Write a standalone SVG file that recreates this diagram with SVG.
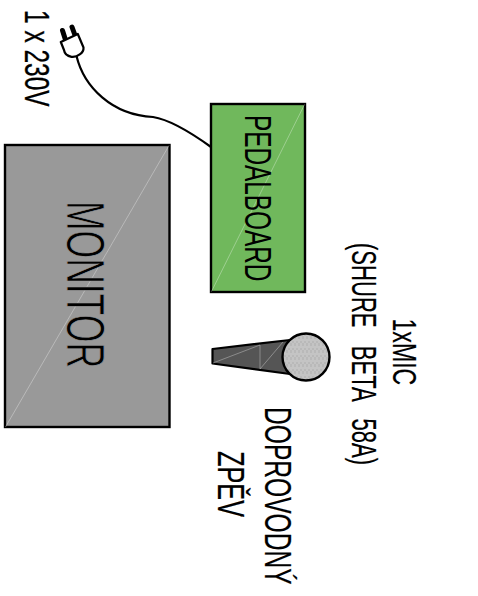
<svg xmlns="http://www.w3.org/2000/svg" width="478" height="596" viewBox="0 0 478 596">
<style>
.t{font-family:"Liberation Sans",Arial,sans-serif;fill:#000;}
.box{stroke:#000;stroke-width:2.400;}
.diag{stroke:#fff;stroke-opacity:.4;stroke-width:.8;fill:none;}
.wire{stroke:#000;stroke-width:2.200;fill:none;}
</style>
<defs>
<pattern id="mesh" width="4" height="7" patternUnits="userSpaceOnUse">
<rect width="4" height="7" fill="#b9b9b9"/>
<path d="M1 0V5M3 3V7" stroke="#cfcfcf" stroke-width="1"/>
</pattern>
</defs>
<rect width="478" height="596" fill="#fff"/>
<g id="connectors">
<path class="wire" d="M76.500 56C84 87 112 115 153 117C172 120 193 134 211 147"/>
</g>
<g id="plug">
<path d="M62.500 30.500L66 41.500M72 27L76 38" stroke="#000" stroke-width="5" stroke-linecap="round" fill="none"/>
<path d="M60.800 42L77.800 34L83.500 47.500C84 53 77 57.500 71.500 56.800C67 56 64.500 53.500 64 50Z" fill="#fff" stroke="#000" stroke-width="2.200" stroke-linejoin="round"/>
</g>
<g id="label-power">
<text class="t" transform="translate(25 10) rotate(90) scale(.7 1)" font-size="35" stroke="#000" stroke-width=".3">1 x 230V</text>
</g>
<g id="monitor">
<rect class="box" x="5" y="145" width="164.500" height="282" fill="#999"/>
<path class="diag" d="M5.500 427L169 145.500"/>
<text class="t" transform="translate(67 201) rotate(90) scale(.67 1)" font-size="53" stroke="#999" stroke-width=".8">MONITOR</text>
</g>
<g id="pedalboard">
<rect class="box" x="211" y="104" width="94" height="188" fill="#70b85c"/>
<path class="diag" d="M211.500 291.500L304.500 104.500"/>
<text class="t" transform="translate(245 115) rotate(90) scale(.667 1)" font-size="36.500">PEDALBOARD</text>
</g>
<g id="microphone">
<path d="M212.500 349L290 340V374L212.500 363.500Z" fill="#555" stroke="#000" stroke-width="2.200" stroke-linejoin="round"/>
<path class="diag" d="M213 363L260 345M260 345V369M260 369L283 342" stroke-opacity=".5"/>
<circle cx="306" cy="357" r="23.500" fill="url(#mesh)" stroke="#000" stroke-width="2.400"/>
</g>
<g id="label-mic">
<text class="t" transform="translate(393 318.500) rotate(90) scale(.68 1)" font-size="34" stroke="#000" stroke-width=".2">1xMIC</text>
<text class="t" transform="translate(352 243) rotate(90) scale(.63 1)" font-size="35" stroke="#000" stroke-width=".2" xml:space="preserve">(SHURE  <tspan dx="9.500">BETA  </tspan><tspan dx="9">58A)</tspan></text>
</g>
<g id="label-vocal">
<text class="t" transform="translate(265 407) rotate(90) scale(.665 1)" font-size="37" stroke="#000" stroke-width=".2">DOPROVODNÝ</text>
<text class="t" transform="translate(218 451) rotate(90) scale(.683 1)" font-size="37" stroke="#000" stroke-width=".2">ZPĚV</text>
</g>
</svg>
